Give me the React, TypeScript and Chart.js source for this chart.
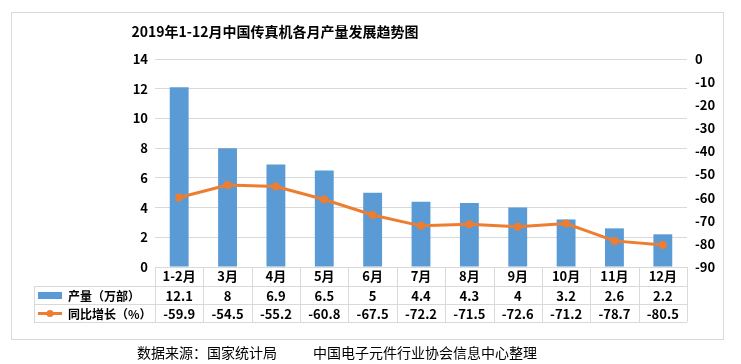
import React, { useEffect, useRef } from "react";
import { Chart, registerables } from "chart.js";

Chart.register(...registerables);

const categories = ["1-2月", "3月", "4月", "5月", "6月", "7月", "8月", "9月", "10月", "11月", "12月"];
const output = [12.1, 8, 6.9, 6.5, 5, 4.4, 4.3, 4, 3.2, 2.6, 2.2];
const growth = [-59.9, -54.5, -55.2, -60.8, -67.5, -72.2, -71.5, -72.6, -71.2, -78.7, -80.5];
const outputLabel = "产量（万部）";
const growthLabel = "同比增长（%）";
const title = "2019年1-12月中国传真机各月产量发展趋势图";
const sourceLeft = "数据来源：国家统计局";
const sourceRight = "中国电子元件行业协会信息中心整理";

const BLUE = "#5B9BD5";
const ORANGE = "#ED7D31";
const GRID = "#d9d9d9";
const FONT = '"Noto Sans CJK SC", "Noto Sans", sans-serif';

const decorPlugin = {
  id: "decor",
  beforeDraw(chart: any) {
    const ctx = chart.ctx;
    ctx.save();
    ctx.fillStyle = "#ffffff";
    ctx.fillRect(0, 0, chart.width, chart.height);
    ctx.strokeStyle = "#d9d9d9";
    ctx.lineWidth = 1;
    ctx.strokeRect(11.5, 12.5, 712, 327);
    ctx.fillStyle = "#000";
    ctx.font = `bold 14px ${FONT}`;
    ctx.textAlign = "center";
    ctx.textBaseline = "middle";
    ctx.fillText(title, 275, 32);
    ctx.font = `14px ${FONT}`;
    ctx.textAlign = "left";
    ctx.fillText(sourceLeft, 137, 353);
    ctx.fillText(sourceRight, 313, 353);
    ctx.restore();
  },
  afterDraw(chart: any) {
    const ctx = chart.ctx;
    const area = chart.chartArea;
    const xs = chart.scales.x;
    const n = categories.length;
    const half = (area.right - area.left) / n / 2;
    const r0 = area.bottom;
    const r1 = r0 + 19;
    const r2 = r1 + 18;
    const r3 = r2 + 18;
    const tableLeft = 34;
    ctx.save();
    ctx.strokeStyle = GRID;
    ctx.lineWidth = 1;
    ctx.beginPath();
    ctx.moveTo(area.left, Math.round(r0) + 0.5);
    ctx.lineTo(area.right, Math.round(r0) + 0.5);
    [r1, r2, r3].forEach((y) => {
      ctx.moveTo(tableLeft, Math.round(y) + 0.5);
      ctx.lineTo(area.right, Math.round(y) + 0.5);
    });
    ctx.moveTo(tableLeft + 0.5, r1);
    ctx.lineTo(tableLeft + 0.5, r3);
    for (let i = 0; i <= n; i++) {
      const px = i < n ? xs.getPixelForValue(i) - half : xs.getPixelForValue(n - 1) + half;
      ctx.moveTo(Math.round(px) + 0.5, r0);
      ctx.lineTo(Math.round(px) + 0.5, r3);
    }
    ctx.stroke();

    ctx.fillStyle = "#000";
    ctx.font = `bold 13px ${FONT}`;
    ctx.textAlign = "center";
    ctx.textBaseline = "middle";
    for (let i = 0; i < n; i++) {
      const cx = xs.getPixelForValue(i);
      ctx.fillText(categories[i], cx, (r0 + r1) / 2);
      ctx.fillText(String(output[i]), cx, (r1 + r2) / 2 + 1);
      ctx.fillText(String(growth[i]), cx, (r2 + r3) / 2 + 1);
    }
    // legend keys
    const m1 = (r1 + r2) / 2;
    const m2 = (r2 + r3) / 2;
    ctx.fillStyle = BLUE;
    ctx.fillRect(38, m1 - 3, 24, 7);
    ctx.strokeStyle = ORANGE;
    ctx.lineWidth = 3;
    ctx.beginPath();
    ctx.moveTo(38, m2 + 0.5);
    ctx.lineTo(62, m2 + 0.5);
    ctx.stroke();
    ctx.fillStyle = ORANGE;
    ctx.beginPath();
    ctx.arc(50, m2 + 0.5, 3.5, 0, Math.PI * 2);
    ctx.fill();
    ctx.fillStyle = "#000";
    ctx.textAlign = "left";
    ctx.font = `bold 12px ${FONT}`;
    ctx.fillText(outputLabel, 68, m1 + 1);
    ctx.fillText(growthLabel, 68, m2 + 1);
    ctx.restore();
  },
};

export default function App() {
  const ref = useRef<HTMLCanvasElement>(null);
  useEffect(() => {
    document.body.style.margin = "0";
    const chart = new Chart(ref.current!, {
      type: "bar",
      data: {
        labels: categories,
        datasets: [
          {
            type: "line",
            label: growthLabel,
            data: growth,
            yAxisID: "y1",
            borderColor: ORANGE,
            backgroundColor: ORANGE,
            borderWidth: 3,
            pointRadius: 4,
            pointBackgroundColor: ORANGE,
            pointBorderWidth: 0,
            tension: 0,
            order: 0,
          } as any,
          {
            type: "bar",
            label: outputLabel,
            data: output,
            yAxisID: "y",
            backgroundColor: BLUE,
            barPercentage: 1,
            categoryPercentage: 0.39,
            order: 1,
          },
        ],
      },
      options: {
        responsive: false,
        animation: false,
        layout: { padding: { top: 59, bottom: 97, left: 0, right: 0 } },
        plugins: { legend: { display: false }, tooltip: { enabled: false }, title: { display: false } },
        scales: {
          x: { display: false },
          y: {
            position: "left",
            min: 0,
            max: 14,
            ticks: { stepSize: 2, padding: 7, color: "#000", font: { family: FONT, size: 13, weight: "bold" } },
            grid: { color: GRID, drawTicks: false },
            border: { display: false },
            afterFit: (s: any) => { s.width = 155; },
          },
          y1: {
            position: "right",
            min: -90,
            max: 0,
            ticks: { stepSize: 10, padding: 8, color: "#000", font: { family: FONT, size: 13, weight: "bold" } },
            grid: { display: false, drawTicks: false },
            border: { display: false },
            afterFit: (s: any) => { s.width = 54; },
          },
        },
      } as any,
      plugins: [decorPlugin],
    });
    return () => chart.destroy();
  }, []);
  return (
    <div style={{ position: "absolute", left: 0, top: 0, width: 741, height: 364 }}>
      <canvas ref={ref} width={741} height={364} style={{ display: "block" }} />
    </div>
  );
}
